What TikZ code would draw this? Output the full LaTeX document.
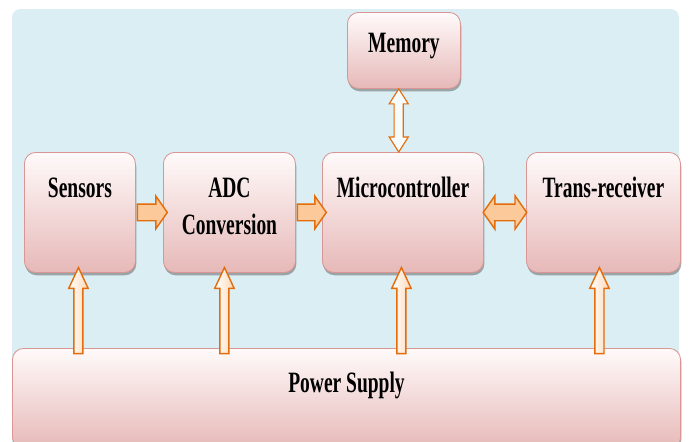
\documentclass[tikz,border=0pt]{standalone}
\usepackage{fontspec}
\newfontfamily\blockfont{Liberation Serif}[FakeStretch=0.66]
\usetikzlibrary{shapes.arrows,shadows,calc}

\definecolor{bgblue}{HTML}{DAEEF3}
\definecolor{boxtop}{HTML}{FFFAFA}
\definecolor{boxbot}{HTML}{E6B9B8}
\definecolor{boxline}{HTML}{D99694}
\definecolor{arrline}{HTML}{E46C0A}
\definecolor{arrfill}{HTML}{FBC99A}

\tikzset{
  blk/.style={rectangle, rounded corners=8pt, draw=boxline, line width=0.6pt,
    top color=boxtop, bottom color=boxbot, inner sep=0pt, align=center,
    font=\blockfont\bfseries\fontsize{21}{26}\selectfont,
    drop shadow={shadow xshift=0.6pt, shadow yshift=-2pt, opacity=0.45, fill=black!70}},
  harr/.style={single arrow, draw=arrline, line width=1pt, inner sep=0.19cm,
    single arrow head extend=0.2cm, single arrow tip angle=110,
    top color=arrfill, middle color=arrfill!25, bottom color=arrfill},
  hdarr/.style={double arrow, draw=arrline, line width=1pt, inner sep=0.19cm,
    double arrow head extend=0.21cm, double arrow tip angle=110,
    top color=arrfill, middle color=arrfill!25, bottom color=arrfill},
  varr/.style={single arrow, shape border rotate=90, draw=arrline, line width=1pt,
    inner sep=0.095cm, single arrow head extend=0.13cm,
    single arrow tip angle=50, left color=white, right color=arrfill!70},
  vdarr/.style={double arrow, shape border rotate=90, draw=arrline, line width=0.8pt,
    inner sep=0.1cm, double arrow head extend=0.125cm,
    double arrow tip angle=65, fill=white!75!bgblue},
}

\begin{document}
\begin{tikzpicture}[x=0.025cm, y=-0.025cm]
  \useasboundingbox (0,0) rectangle (690,441);
  \fill[bgblue, rounded corners=6pt] (12,9) rectangle (679,460);

  % blocks
  \node (mem) [blk, anchor=north west, minimum width=2.825cm, text height=1cm, text depth=0.9cm] at (347,12) {Memory};
  \node (sens) [blk, anchor=north west, minimum width=2.775cm, text height=1.125cm, text depth=1.875cm] at (24,152) {Sensors};
  \node (adc) [blk, anchor=north west, minimum width=3.3cm, text height=2.04cm, text depth=0.96cm] at (163,152) {ADC\\Conversion};
  \node (mcu) [blk, anchor=north west, minimum width=4.025cm, text height=1.125cm, text depth=1.875cm] at (322,152) {Microcontroller};
  \node (trx) [blk, anchor=north west, minimum width=3.85cm, text height=1.125cm, text depth=1.875cm] at (526,152) {Trans-receiver};
  \node (pwr) [blk, anchor=north west, minimum width=16.7cm, text height=1.1cm, text depth=1.4cm] at (12,348) {Power Supply};

  % data path
  \path let \p1=(sens.east), \p2=(adc.west) in
    node (a1) [harr, minimum height={\x2-\x1+2pt}] at ($(\p1)!0.5!(\p2)$) {};
  \path let \p1=(adc.east), \p2=(mcu.west) in
    node (a2) [harr, minimum height={\x2-\x1+2pt}] at ($(\p1)!0.5!(\p2)$) {};
  \path let \p1=(mcu.east), \p2=(trx.west) in
    node (a3) [hdarr, minimum height={\x2-\x1+1pt}] at ($(\p1)!0.5!(\p2)$) {};
  \path let \p1=([xshift=-0.13cm]mem.south), \p2=(mcu.north) in
    node (a4) [vdarr, minimum height={\y1-\y2}] at (\x1,{(\y1+\y2)/2}) {};

  % supply lines
  \foreach \b/\dx in {sens/-1.5, adc/-5, mcu/-1.5, trx/-4}{
    \path let \p1=([xshift=\dx*0.025cm, yshift=0.175cm]\b.south), \p2=(pwr.north) in
      node [varr, anchor=tip, minimum height={\y1-\y2+0.1cm}] at (\p1) {};
  }
\end{tikzpicture}
\end{document}
